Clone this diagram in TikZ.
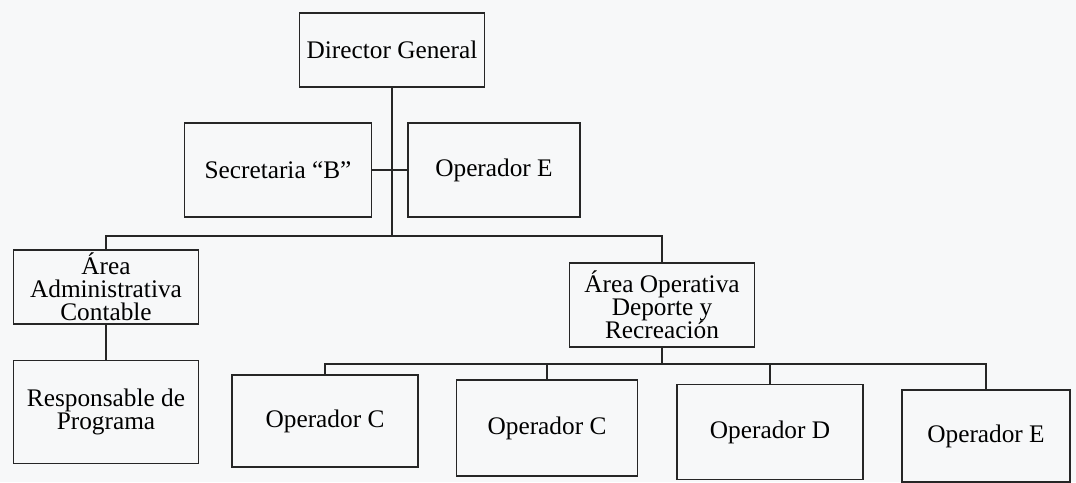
\documentclass[tikz,border=0pt]{standalone}
\usepackage{fontspec}
\setmainfont{Liberation Serif}
\usetikzlibrary{positioning}
\definecolor{paper}{RGB}{247,248,249}
\definecolor{ink}{RGB}{38,38,38}

\begin{document}
\begin{tikzpicture}[x=0.025cm,y=-0.025cm,line width=1.1pt]
    \tikzstyle{box}=[rectangle, draw=ink, align=center, inner sep=2pt, font=\fontsize{18}{16.5}\selectfont]
    \tikzstyle{link}=[draw=ink, line width=1.1pt]

    \fill[paper] (0,0) rectangle (1076,482);
    \useasboundingbox (0,0) rectangle (1076,482);

    % top level
    \node[box, minimum width=4.625cm, minimum height=1.85cm]  (dir)  at (392,50)  {Director General};
    \node[box, minimum width=4.675cm, minimum height=2.35cm]  (sec)  at (278,170) {Secretaria “B”};
    \node[box, minimum width=4.3cm,   minimum height=2.35cm]  (opE1) at (494,170) {Operador E};

    % areas
    \node[box, minimum width=4.625cm, minimum height=1.8cm]   (adm)  at (106,287) {Área\\Administrativa\\Contable};
    \node[box, minimum width=4.625cm, minimum height=2.575cm] (resp) at (106,412) {Responsable de\\Programa};
    \node[box, minimum width=4.625cm, minimum height=2.1cm]   (ope)  at (662,305) {Área Operativa\\Deporte y\\Recreación};

    % operators
    \node[box, minimum width=4.65cm,  minimum height=2.3cm]   (opC1) at (325,421) {Operador C};
    \node[box, minimum width=4.525cm, minimum height=2.4cm]   (opC2) at (547,428) {Operador C};
    \node[box, minimum width=4.65cm,  minimum height=2.375cm] (opD)  at (770,432) {Operador D};
    \node[box, minimum width=4.2cm,   minimum height=2.3cm]   (opE2) at (986,436) {Operador E};

    \coordinate (topbus) at (392,236);
    \coordinate (lowbus) at (662,364);

    \draw[link] (dir) -- (topbus);
    \draw[link] (sec) -- (opE1);
    \draw[link] (adm.north) |- (topbus) -| (ope.north);
    \draw[link] (adm) -- (resp);
    \draw[link] (ope) -- (lowbus);
    \draw[link] (opC1.north) |- (lowbus) -| (opE2.north);
    \draw[link] (opC2.north) -- (opC2.north |- lowbus);
    \draw[link] (opD.north) -- (opD.north |- lowbus);

\end{tikzpicture}
\end{document}
